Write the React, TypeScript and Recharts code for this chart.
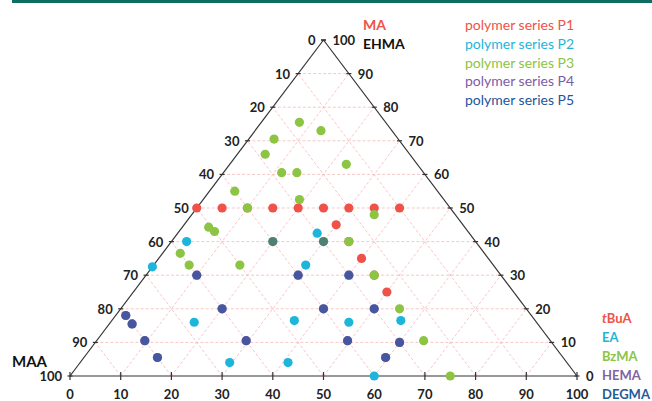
import React from "react";
import { ScatterChart, Scatter, XAxis, YAxis, ReferenceLine } from "recharts";

// composition in % : maa (bottom-left corner), ma (apex), co (bottom-right corner)
type Comp = { maa: number; ma: number; co: number };

const tickValues = [0, 10, 20, 30, 40, 50, 60, 70, 80, 90, 100];
const gridSteps = [10, 20, 30, 40, 50, 60, 70, 80, 90];

const seriesP1: Comp[] = [
  { maa: 50, ma: 50, co: 0 },
  { maa: 45, ma: 50, co: 5 },
  { maa: 40, ma: 50, co: 10 },
  { maa: 35, ma: 50, co: 15 },
  { maa: 30, ma: 50, co: 20 },
  { maa: 25, ma: 50, co: 25 },
  { maa: 20, ma: 50, co: 30 },
  { maa: 15, ma: 50, co: 35 },
  { maa: 10, ma: 50, co: 40 },
  { maa: 25, ma: 45, co: 30 },
  { maa: 25, ma: 40, co: 35 },
  { maa: 25, ma: 35, co: 40 },
  { maa: 25, ma: 30, co: 45 },
  { maa: 25, ma: 25, co: 50 },
];

const seriesP2: Comp[] = [
  { maa: 30, ma: 42.5, co: 27.5 },
  { maa: 57, ma: 40, co: 3 },
  { maa: 37, ma: 33, co: 30 },
  { maa: 67.5, ma: 32.5, co: 0 },
  { maa: 67.5, ma: 16, co: 16.5 },
  { maa: 47.5, ma: 16.5, co: 36 },
  { maa: 37, ma: 16, co: 47 },
  { maa: 26.5, ma: 16.5, co: 57 },
  { maa: 66.5, ma: 4, co: 29.5 },
  { maa: 55, ma: 4, co: 41 },
  { maa: 40, ma: 0, co: 60 },
];

const seriesP3: Comp[] = [
  { maa: 17, ma: 75.5, co: 7.5 },
  { maa: 14, ma: 73, co: 13 },
  { maa: 24.5, ma: 70.5, co: 5 },
  { maa: 28.5, ma: 66, co: 5.5 },
  { maa: 14, ma: 63, co: 23 },
  { maa: 28, ma: 60.5, co: 11.5 },
  { maa: 25, ma: 60.5, co: 14.5 },
  { maa: 40, ma: 55, co: 5 },
  { maa: 28.5, ma: 52.5, co: 19 },
  { maa: 40, ma: 50, co: 10 },
  { maa: 16, ma: 48, co: 36 },
  { maa: 50.5, ma: 44.3, co: 5.2 },
  { maa: 50, ma: 43, co: 7 },
  { maa: 60, ma: 36.5, co: 3.5 },
  { maa: 60, ma: 33, co: 7 },
  { maa: 50, ma: 33, co: 17 },
  { maa: 40, ma: 40, co: 20 },
  { maa: 30, ma: 40, co: 30 },
  { maa: 25, ma: 40, co: 35 },
  { maa: 25, ma: 30, co: 45 },
  { maa: 25, ma: 20, co: 55 },
  { maa: 25, ma: 10.5, co: 64.5 },
  { maa: 25, ma: 0, co: 75 },
];

const seriesP4: Comp[] = [
  { maa: 60, ma: 30, co: 10 },
  { maa: 40, ma: 30, co: 30 },
  { maa: 30, ma: 30, co: 40 },
  { maa: 40, ma: 20, co: 40 },
  { maa: 30, ma: 20, co: 50 },
  { maa: 60, ma: 20, co: 20 },
  { maa: 80, ma: 18, co: 2 },
  { maa: 80, ma: 15.5, co: 4.5 },
  { maa: 80, ma: 10.5, co: 9.5 },
  { maa: 80, ma: 5.5, co: 14.5 },
  { maa: 60, ma: 10.5, co: 29.5 },
  { maa: 40, ma: 10.5, co: 49.5 },
  { maa: 30, ma: 10, co: 60 },
  { maa: 35, ma: 5.5, co: 59.5 },
];

const seriesP5: Comp[] = [
  ...seriesP4,
  { maa: 40, ma: 40, co: 20 },
  { maa: 30, ma: 40, co: 30 },
];

const seriesNames = ["polymer series P1", "polymer series P2", "polymer series P3", "polymer series P4", "polymer series P5"];
const seriesColors = ["#EE5249", "#1DB6DA", "#8CC443", "#7C5CA8", "#24549A"];
const comonomers = ["tBuA", "EA", "BzMA", "HEMA", "DEGMA"];
const comonomerColors = ["#EE5249", "#1DB6DA", "#8CC443", "#8064A2", "#1F5C99"];

const toXY = (p: Comp) => {
  const s = p.maa + p.ma + p.co;
  return { x: ((p.co + p.ma / 2) / s) * 100, y: (p.ma / s) * 100 };
};

const leftLabels = tickValues.map((t) => ({ x: (100 - t) / 2, y: 100 - t, label: String(t) }));
const rightLabels = tickValues.map((t) => ({ x: 100 - t / 2, y: t, label: String(t) }));
const bottomLabels = tickValues.map((t) => ({ x: t, y: 0, label: String(t) }));

const font = "Lato, 'Open Sans', sans-serif";

const dot = (color: string, opacity = 1) => (props: any) => (
  <circle cx={props.cx} cy={props.cy} r={4.6} fill={color} fillOpacity={opacity} />
);

const label = (anchor: "start" | "end" | "middle", dx: number, dy: number) => (props: any) => (
  <text
    x={props.cx + dx}
    y={props.cy + dy}
    textAnchor={anchor}
    dominantBaseline="central"
    fontFamily={font}
    fontWeight="bold"
    fontSize={13}
    fill="#222"
  >
    {props.payload.label}
  </text>
);

const grid = { stroke: "#F7B9B9", strokeDasharray: "3 2", strokeWidth: 0.8, ifOverflow: "visible" as const };
const edge = { stroke: "#333", strokeWidth: 1.2, ifOverflow: "visible" as const };

export default function App() {
  return (
    <div style={{ position: "absolute", left: 0, top: 0, width: 652, height: 401, background: "#fff", fontFamily: font }}>
      <div style={{ position: "absolute", left: 12, right: 0, top: 0, height: 3, background: "#0F6E5F" }} />
      <ScatterChart width={652} height={401} margin={{ top: 40, right: 75, bottom: 25, left: 70 }}>
        <XAxis type="number" dataKey="x" domain={[0, 100]} hide />
        <YAxis type="number" dataKey="y" domain={[0, 100]} hide />
        {gridSteps.map((k) => (
          <ReferenceLine key={"h" + k} segment={[{ x: k / 2, y: k }, { x: 100 - k / 2, y: k }]} {...grid} />
        ))}
        {gridSteps.map((k) => (
          <ReferenceLine key={"c" + k} segment={[{ x: k, y: 0 }, { x: k + (100 - k) / 2, y: 100 - k }]} {...grid} />
        ))}
        {gridSteps.map((k) => (
          <ReferenceLine key={"a" + k} segment={[{ x: 100 - k, y: 0 }, { x: (100 - k) / 2, y: 100 - k }]} {...grid} />
        ))}
        <ReferenceLine segment={[{ x: 0, y: 0 }, { x: 100, y: 0 }]} {...edge} />
        <ReferenceLine segment={[{ x: 0, y: 0 }, { x: 50, y: 100 }]} {...edge} />
        <ReferenceLine segment={[{ x: 100, y: 0 }, { x: 50, y: 100 }]} {...edge} />
        {leftLabels.map((p) => (
          <ReferenceLine key={"lt" + p.label} segment={[{ x: p.x - 0.5, y: p.y }, { x: p.x + 0.5, y: p.y }]} {...edge} />
        ))}
        {rightLabels.map((p) => (
          <ReferenceLine key={"rt" + p.label} segment={[{ x: p.x - 0.5, y: p.y }, { x: p.x + 0.5, y: p.y }]} {...edge} />
        ))}
        {bottomLabels.map((p) => (
          <ReferenceLine key={"bt" + p.label} segment={[{ x: p.x, y: -1.2 }, { x: p.x, y: 1.2 }]} {...edge} />
        ))}
        <Scatter data={leftLabels} shape={label("end", -8, 0)} isAnimationActive={false} />
        <Scatter data={rightLabels} shape={label("start", 9, 0)} isAnimationActive={false} />
        <Scatter data={bottomLabels} shape={label("middle", 0, 17.5)} isAnimationActive={false} />
        <Scatter data={seriesP1.map(toXY)} shape={dot(seriesColors[0])} isAnimationActive={false} />
        <Scatter data={seriesP2.map(toXY)} shape={dot(seriesColors[1])} isAnimationActive={false} />
        <Scatter data={seriesP3.map(toXY)} shape={dot(seriesColors[2])} isAnimationActive={false} />
        <Scatter data={seriesP4.map(toXY)} shape={dot(seriesColors[3])} isAnimationActive={false} />
        <Scatter data={seriesP5.map(toXY)} shape={dot(seriesColors[4], 0.6)} isAnimationActive={false} />
      </ScatterChart>
      <div style={{ position: "absolute", left: 363, top: 16, fontWeight: "bold", fontSize: 14, color: "#EE5249", lineHeight: "18px" }}>MA</div>
      <div style={{ position: "absolute", left: 363, top: 35, fontWeight: "bold", fontSize: 14, color: "#111", lineHeight: "18px" }}>EHMA</div>
      {seriesNames.map((n, i) => (
        <div key={n} style={{ position: "absolute", left: 465, top: 16 + i * 18.8, fontSize: 14, color: seriesColors[i], lineHeight: "18px", whiteSpace: "nowrap" }}>
          {n}
        </div>
      ))}
      <div style={{ position: "absolute", left: 12, top: 352, fontWeight: "bold", fontSize: 15, color: "#111", lineHeight: "18px" }}>MAA</div>
      {comonomers.map((n, i) => (
        <div key={n} style={{ position: "absolute", left: 602, top: 309 + i * 19, fontWeight: "bold", fontSize: 13, color: comonomerColors[i], lineHeight: "18px", whiteSpace: "nowrap" }}>
          {n === "tBuA" ? (
            <>
              <i>t</i>BuA
            </>
          ) : (
            n
          )}
        </div>
      ))}
    </div>
  );
}
